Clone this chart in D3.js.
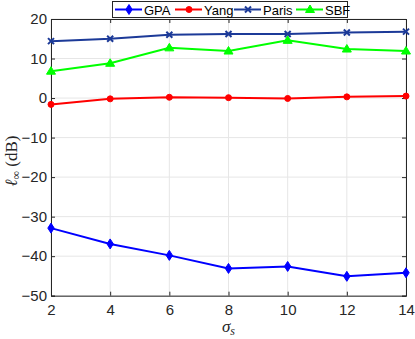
<!DOCTYPE html>
<html>
<head>
<meta charset="utf-8">
<script src="https://cdn.jsdelivr.net/npm/d3@7"></script>
<style>
  body { margin: 0; background: #fff; }
  svg { display: block; }
  .tick text { font-family: "Liberation Sans", Arial, sans-serif; font-size: 15px; fill: #262626; }
</style>
</head>
<body>
<svg id="chart" width="415" height="339"></svg>
<script>
// sigma_s values on the x axis
var sigma = [2, 4, 6, 8, 10, 12, 14];
var gpa   = [-32.9, -36.9, -39.8, -43.1, -42.6, -45.1, -44.2];
var yang  = [-1.6, -0.2, 0.2, 0.1, -0.1, 0.3, 0.5];
var paris = [14.4, 15.0, 16.0, 16.2, 16.2, 16.6, 16.8];
var sbf   = [6.8, 8.8, 12.7, 11.9, 14.6, 12.4, 11.9];
var xticks = [2, 4, 6, 8, 10, 12, 14];
var yticks = [20, 10, 0, -10, -20, -30, -40, -50];

var series = [
    {name: "GPA",   vals: gpa,   color: "#0000ff", marker: "diamond"},
    {name: "Yang",  vals: yang,  color: "#ff0000", marker: "circle"},
    {name: "Paris", vals: paris, color: "#1c3a98", marker: "cross"},
    {name: "SBF",   vals: sbf,   color: "#00ff00", marker: "triangle"}
];

var svg = d3.select("#chart");
var m_left = 51, m_right = 406, m_top = 19, m_bottom = 295.7;

var x = d3.scaleLinear().domain([2, 14]).range([m_left, m_right]);
var y = d3.scaleLinear().domain([-50, 20]).range([m_bottom, m_top]);

// grid
var grid = svg.append("g");
grid.selectAll(".gx").data(xticks).enter().append("line")
    .attr("x1", d => x(d)).attr("x2", d => x(d))
    .attr("y1", m_top).attr("y2", m_bottom)
    .attr("stroke", "#e6e6e6").attr("stroke-width", 1);
grid.selectAll(".gy").data(yticks).enter().append("line")
    .attr("x1", m_left).attr("x2", m_right)
    .attr("y1", d => y(d)).attr("y2", d => y(d))
    .attr("stroke", "#e6e6e6").attr("stroke-width", 1);

// axes, ticks inward
var xAxis = svg.append("g").attr("transform", "translate(0," + m_bottom + ")")
    .call(d3.axisBottom(x).tickValues(xticks).tickSize(-4).tickPadding(8).tickFormat(d3.format("d")));
var yAxis = svg.append("g").attr("transform", "translate(" + m_left + ",0)")
    .call(d3.axisLeft(y).tickValues(yticks).tickSize(-4).tickPadding(8).tickFormat(d3.format("d")));
var xTop = svg.append("g").attr("transform", "translate(0," + m_top + ")")
    .call(d3.axisTop(x).tickValues(xticks).tickSize(-4).tickFormat(""));
var yRight = svg.append("g").attr("transform", "translate(" + m_right + ",0)")
    .call(d3.axisRight(y).tickValues(yticks).tickSize(-4).tickFormat(""));
[xAxis, yAxis, xTop, yRight].forEach(function(a){
    a.selectAll("path, line").attr("stroke", "#262626");
    a.select(".domain").attr("stroke-width", 1);
});
yAxis.selectAll(".tick text").attr("dx", "4");
xAxis.selectAll(".tick text").attr("dy", "0.75em");

var line = d3.line().x((d, i) => x(sigma[i])).y(d => y(d));

function drawMarker(g, type, color, cx, cy) {
    if (type == "diamond") {
        g.append("path").attr("d", "M" + cx + "," + (cy - 5) + " L" + (cx + 3.2) + "," + cy + " L" + cx + "," + (cy + 5) + " L" + (cx - 3.2) + "," + cy + "Z")
            .attr("fill", color).attr("stroke", color);
    } else if (type == "circle") {
        g.append("circle").attr("cx", cx).attr("cy", cy).attr("r", 3)
            .attr("fill", color).attr("stroke", color);
    } else if (type == "cross") {
        g.append("path").attr("d", "M" + (cx - 3) + "," + (cy - 3) + " L" + (cx + 3) + "," + (cy + 3) + " M" + (cx - 3) + "," + (cy + 3) + " L" + (cx + 3) + "," + (cy - 3))
            .attr("stroke", color).attr("stroke-width", 2).attr("fill", "none");
    } else {
        g.append("path").attr("d", "M" + cx + "," + (cy - 4.5) + " L" + (cx + 4.5) + "," + (cy + 3) + " L" + (cx - 4.5) + "," + (cy + 3) + "Z")
            .attr("fill", color).attr("stroke", color);
    }
}

series.forEach(function(s){
    var g = svg.append("g");
    g.append("path").datum(s.vals).attr("d", line)
        .attr("fill", "none").attr("stroke", s.color).attr("stroke-width", 2);
    s.vals.forEach(function(v, i){ drawMarker(g, s.marker, s.color, x(sigma[i]), y(v)); });
});

// legend
var lg = svg.append("g");
lg.append("rect").attr("x", 112.5).attr("y", 1.5).attr("width", 235).attr("height", 16)
    .attr("fill", "#fff").attr("stroke", "#262626").attr("stroke-width", 1);
var lx = [115, 175, 234, 296];
series.forEach(function(s, i){
    var x0 = lx[i];
    lg.append("line").attr("x1", x0).attr("x2", x0 + 27).attr("y1", 9.5).attr("y2", 9.5)
        .attr("stroke", s.color).attr("stroke-width", 2);
    drawMarker(lg, s.marker, s.color, x0 + 14, 9.5);
    lg.append("text").attr("x", x0 + 29).attr("y", 14.5).text(s.name)
        .attr("font-family", "Liberation Sans, Arial, sans-serif").attr("font-size", 13).attr("fill", "#000");
});

// axis labels
svg.append("text").attr("x", x(8)).attr("y", 332).attr("text-anchor", "middle")
    .attr("font-family", "Liberation Serif, serif").attr("font-size", 17).attr("fill", "#262626")
    .html('<tspan font-style="italic">σ</tspan><tspan font-style="italic" font-size="12" dy="3">s</tspan>');
svg.append("text").attr("transform", "translate(17,161) rotate(-90)").attr("text-anchor", "middle")
    .attr("font-family", "Liberation Serif, serif").attr("font-size", 17).attr("fill", "#262626")
    .html('<tspan font-style="italic">ℓ</tspan><tspan font-size="12" dy="3">∞</tspan><tspan dy="-3"> (dB)</tspan>');
</script>
</body>
</html>
